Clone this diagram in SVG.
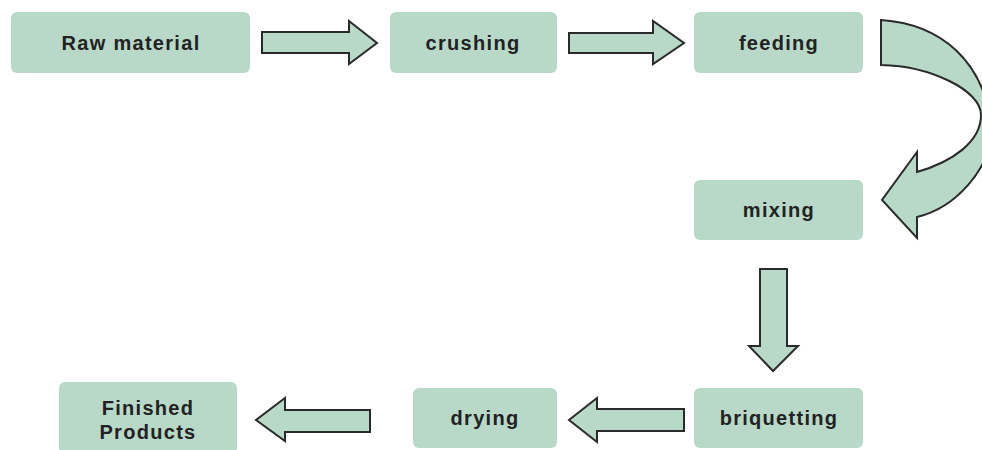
<svg xmlns="http://www.w3.org/2000/svg" width="982" height="450" viewBox="0 0 982 450">
<style>
.box{fill:#b9d9c8;}
.lbl{font-family:"Liberation Sans",Arial,sans-serif;font-weight:bold;font-size:20px;fill:#222;text-anchor:middle;letter-spacing:1.3px;}
.arr{fill:#b9d9c8;stroke:#2a2a2a;stroke-width:2;stroke-linejoin:miter;}
</style>
<rect width="982" height="450" fill="#ffffff"/>
<g id="connectors">
<path class="arr" d="M262,32 L349,32 L349,21 L377,43 L349,64 L349,53 L262,53 Z"/>
<path class="arr" d="M569,33 L653,33 L653,21 L684,43 L653,64 L653,53 L569,53 Z"/>
<path class="arr" d="M881,20 C940,24 985,60 992,130 C990,170 955,208 917,217 L917,238 L882,200 L917,152 L917,172 C952,162 981,142 981,115 C981,90 930,66 881,65 Z"/>
<path class="arr" d="M760,269 L787,269 L787,346 L798,346 L773,371 L749,346 L760,346 Z"/>
<path class="arr" d="M684,409 L684,431 L597,431 L597,442 L569,420 L597,398 L597,409 Z"/>
<path class="arr" d="M370,410 L370,432 L285,432 L285,441 L256,420 L285,398 L285,410 Z"/>
</g>
<g id="raw"><rect class="box" x="11" y="12" width="239" height="61" rx="6"/><text class="lbl" x="131" y="50">Raw material</text></g>
<g id="crushing"><rect class="box" x="390" y="12" width="167" height="61" rx="6"/><text class="lbl" x="473" y="50">crushing</text></g>
<g id="feeding"><rect class="box" x="694" y="12" width="169" height="61" rx="6"/><text class="lbl" x="779" y="50">feeding</text></g>
<g id="mixing"><rect class="box" x="694" y="180" width="169" height="60" rx="6"/><text class="lbl" x="779" y="217">mixing</text></g>
<g id="briquetting"><rect class="box" x="694" y="388" width="169" height="60" rx="6"/><text class="lbl" x="779" y="425">briquetting</text></g>
<g id="drying"><rect class="box" x="413" y="388" width="144" height="60" rx="6"/><text class="lbl" x="485" y="425">drying</text></g>
<g id="finished"><rect class="box" x="59" y="382" width="178" height="72" rx="6"/><text class="lbl" x="148" y="415">Finished</text><text class="lbl" x="148" y="439">Products</text></g>
</svg>
